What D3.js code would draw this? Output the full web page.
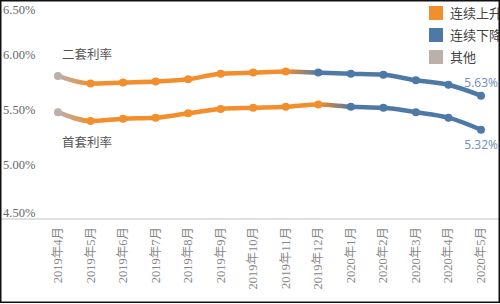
<!DOCTYPE html>
<html>
<head>
<meta charset="utf-8">
<script src="https://cdn.jsdelivr.net/npm/d3@7"></script>
<style>
  body { margin: 0; background: #fff; }
  svg { display: block; }
</style>
</head>
<body>
<div id="chart"></div>
<script>
var months = ['2019年4月', '2019年5月', '2019年6月', '2019年7月', '2019年8月', '2019年9月', '2019年10月',
              '2019年11月', '2019年12月', '2020年1月', '2020年2月', '2020年3月', '2020年4月', '2020年5月'];

// 二套利率 / 首套利率 (%)
var second = [5.81, 5.74, 5.75, 5.76, 5.78, 5.83, 5.84, 5.85, 5.84, 5.83, 5.82, 5.77, 5.73, 5.63];
var first  = [5.48, 5.40, 5.42, 5.43, 5.47, 5.51, 5.52, 5.53, 5.55, 5.53, 5.52, 5.48, 5.43, 5.32];

// trend category per point
var secondTrend = ['其他', '连续上升', '连续上升', '连续上升', '连续上升', '连续上升', '连续上升',
                   '连续上升', '连续下降', '连续下降', '连续下降', '连续下降', '连续下降', '连续下降'];
var firstTrend  = ['其他', '连续上升', '连续上升', '连续上升', '连续上升', '连续上升', '连续上升',
                   '连续上升', '连续上升', '连续下降', '连续下降', '连续下降', '连续下降', '连续下降'];

var yTicks = [4.5, 5.0, 5.5, 6.0, 6.5];
var legendItems = ['连续上升', '连续下降', '其他'];

var width = 500, height = 304;

var svg = d3.select('#chart')
  .append('svg')
  .attr('width', width)
  .attr('height', height);

var color = d3.scaleOrdinal()
  .domain(legendItems)
  .range(['#f28e2b', '#4e79a7', '#bab0ac']);

var x = d3.scalePoint()
  .domain(months)
  .range([58, 481]);

var y = d3.scaleLinear()
  .domain([4.5, 6.5])
  .range([220, 0]);

// axis baseline
svg.append('line')
  .attr('x1', 0).attr('x2', width)
  .attr('y1', 219).attr('y2', 219)
  .attr('stroke', '#d6d6d6')
  .attr('stroke-width', 1.5);

// y tick labels
svg.selectAll('.ytick')
  .data(yTicks)
  .enter()
  .append('text')
  .attr('class', 'ytick')
  .attr('x', 3)
  .attr('y', d => Math.min(Math.max(y(d), 10), 213))
  .attr('dy', '0.35em')
  .attr('font-family', 'Liberation Serif, serif')
  .attr('font-size', 12.5)
  .attr('fill', '#666')
  .text(d => d3.format('.2f')(d) + '%');

// x tick labels, rotated
svg.selectAll('.xtick')
  .data(months)
  .enter()
  .append('text')
  .attr('class', 'xtick')
  .attr('transform', d => 'translate(' + (x(d) + 4) + ',227) rotate(-90)')
  .attr('text-anchor', 'end')
  .attr('font-family', 'Liberation Serif, Noto Sans CJK SC, serif')
  .attr('font-size', 12.5)
  .attr('fill', '#888')
  .text(d => d);

var line = d3.line()
  .x((d, i) => x(months[i]))
  .y(d => y(d))
  .curve(d3.curveMonotoneX);

var defs = svg.append('defs');
var x0 = x(months[0]), x1 = x(months[months.length - 1]);

function drawSeries(id, values, trend) {
  var grad = defs.append('linearGradient')
    .attr('id', id)
    .attr('gradientUnits', 'userSpaceOnUse')
    .attr('x1', x0).attr('x2', x1)
    .attr('y1', 0).attr('y2', 0);

  grad.selectAll('stop')
    .data(trend)
    .enter()
    .append('stop')
    .attr('offset', (d, i) => (x(months[i]) - x0) / (x1 - x0))
    .attr('stop-color', d => color(d));

  svg.append('path')
    .datum(values)
    .attr('d', line)
    .attr('fill', 'none')
    .attr('stroke', 'url(#' + id + ')')
    .attr('stroke-width', 4.5)
    .attr('stroke-linejoin', 'round')
    .attr('stroke-linecap', 'round');

  svg.append('g')
    .selectAll('circle')
    .data(values)
    .enter()
    .append('circle')
    .attr('cx', (d, i) => x(months[i]))
    .attr('cy', d => y(d))
    .attr('r', 4)
    .attr('fill', (d, i) => color(trend[i]));
}

drawSeries('g2', second, secondTrend);
drawSeries('g1', first, firstTrend);

// series names
svg.append('text')
  .attr('x', 62).attr('y', 55)
  .attr('dy', '0.35em')
  .attr('font-family', 'Noto Sans CJK SC, sans-serif')
  .attr('font-size', 12.5)
  .attr('fill', '#555')
  .text('二套利率');

svg.append('text')
  .attr('x', 62).attr('y', 143)
  .attr('dy', '0.35em')
  .attr('font-family', 'Noto Sans CJK SC, sans-serif')
  .attr('font-size', 12.5)
  .attr('fill', '#555')
  .text('首套利率');

// end value labels
var last = months.length - 1;
svg.append('text')
  .attr('x', 498).attr('y', y(second[last]) - 13)
  .attr('dy', '0.35em')
  .attr('text-anchor', 'end')
  .attr('font-family', 'Open Sans, sans-serif')
  .attr('font-size', 12)
  .attr('fill', '#6e8db8')
  .text(d3.format('.2f')(second[last]) + '%');

svg.append('text')
  .attr('x', 498).attr('y', y(first[last]) + 15)
  .attr('dy', '0.35em')
  .attr('text-anchor', 'end')
  .attr('font-family', 'Open Sans, sans-serif')
  .attr('font-size', 12)
  .attr('fill', '#6e8db8')
  .text(d3.format('.2f')(first[last]) + '%');

// legend (text runs past the right edge, as in the original crop)
var legend = svg.append('g')
  .selectAll('g')
  .data(legendItems)
  .enter()
  .append('g')
  .attr('transform', (d, i) => 'translate(429,' + (6 + i * 22) + ')');

legend.append('rect')
  .attr('width', 14)
  .attr('height', 14)
  .attr('fill', d => color(d));

legend.append('text')
  .attr('x', 21)
  .attr('y', 7)
  .attr('dy', '0.35em')
  .attr('font-family', 'Noto Sans CJK SC, sans-serif')
  .attr('font-size', 13)
  .attr('fill', '#444')
  .text(d => d);

// frame
svg.append('rect')
  .attr('x', 0.75).attr('y', 0.75)
  .attr('width', width - 1.5).attr('height', height - 2.5)
  .attr('fill', 'none')
  .attr('stroke', '#111')
  .attr('stroke-width', 1.5);
</script>
</body>
</html>
